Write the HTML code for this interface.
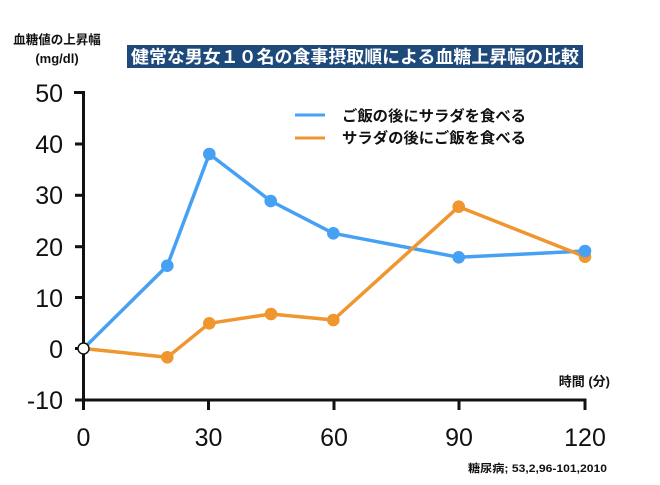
<!DOCTYPE html>
<html>
<head>
<meta charset="utf-8">
<style>
  html, body { margin: 0; padding: 0; background: #fff; }
  body { width: 660px; height: 485px; overflow: hidden; }
  svg { display: block; }
  .jp { font-family: "Liberation Sans", "Noto Sans CJK JP", sans-serif; }
</style>
</head>
<body>
<svg width="660" height="485" viewBox="0 0 660 485" xmlns="http://www.w3.org/2000/svg">
  <rect width="660" height="485" fill="#fff"/>

  <!-- Y axis title -->
  <text x="57" y="44" text-anchor="middle" class="jp" font-size="12.5" font-weight="bold" fill="#111">血糖値の上昇幅</text>
  <text x="57" y="63" text-anchor="middle" class="jp" font-size="13" font-weight="bold" fill="#111">(mg/dl)</text>

  <!-- Title bar -->
  <rect x="127" y="45" width="456" height="23" fill="#1d4a7b"/>
  <text x="355" y="63" text-anchor="middle" class="jp" font-size="17.5" font-weight="bold" fill="#fff" textLength="448" lengthAdjust="spacingAndGlyphs">健常な男女１０名の食事摂取順による血糖上昇幅の比較</text>

  <!-- Legend -->
  <line x1="295" y1="115" x2="325" y2="115" stroke="#46a0f4" stroke-width="3"/>
  <line x1="295" y1="138" x2="325" y2="138" stroke="#f0962f" stroke-width="3"/>
  <text x="342" y="121" class="jp" font-size="15" font-weight="bold" fill="#111" textLength="184" lengthAdjust="spacingAndGlyphs">ご飯の後にサラダを食べる</text>
  <text x="342" y="143" class="jp" font-size="15" font-weight="bold" fill="#111" textLength="184" lengthAdjust="spacingAndGlyphs">サラダの後にご飯を食べる</text>

  <!-- Axes -->
  <g stroke="#111" stroke-width="3" fill="none">
    <line x1="83.5" y1="91" x2="83.5" y2="401.5"/>
    <line x1="75" y1="400" x2="586.5" y2="400"/>
    <!-- y ticks -->
    <line x1="74" y1="92.5" x2="83.5" y2="92.5"/>
    <line x1="75" y1="144" x2="83.5" y2="144"/>
    <line x1="75" y1="195.3" x2="83.5" y2="195.3"/>
    <line x1="75" y1="246.7" x2="83.5" y2="246.7"/>
    <line x1="75" y1="297.5" x2="83.5" y2="297.5"/>
    <line x1="75" y1="348.5" x2="83.5" y2="348.5"/>
    <!-- x ticks -->
    <line x1="83.5" y1="400" x2="83.5" y2="410"/>
    <line x1="208.5" y1="400" x2="208.5" y2="410"/>
    <line x1="334" y1="400" x2="334" y2="410"/>
    <line x1="459" y1="400" x2="459" y2="410"/>
    <line x1="585" y1="400" x2="585" y2="410"/>
  </g>

  <!-- Y tick labels -->
  <g class="jp" font-size="25" fill="#111" text-anchor="end">
    <text x="63" y="102">50</text>
    <text x="63" y="153">40</text>
    <text x="63" y="204">30</text>
    <text x="63" y="256">20</text>
    <text x="63" y="307">10</text>
    <text x="63" y="358">0</text>
    <text x="63" y="409">-10</text>
  </g>

  <!-- X tick labels -->
  <g class="jp" font-size="25" fill="#111" text-anchor="middle">
    <text x="83.5" y="446">0</text>
    <text x="208.5" y="446">30</text>
    <text x="334" y="446">60</text>
    <text x="459" y="446">90</text>
    <text x="585" y="446">120</text>
  </g>

  <!-- X axis title -->
  <text x="610" y="386" text-anchor="end" class="jp" font-size="13" font-weight="bold" fill="#111">時間 (分)</text>

  <!-- Citation -->
  <text x="607" y="472" text-anchor="end" class="jp" font-size="11" font-weight="bold" fill="#111" textLength="139" lengthAdjust="spacingAndGlyphs">糖尿病; 53,2,96-101,2010</text>

  <!-- Series lines -->
  <polyline points="83.5,348.5 167.3,265.7 209.3,154 270.7,201 333.3,233.3 458.7,257.3 585,251" fill="none" stroke="#46a0f4" stroke-width="3.5" stroke-linejoin="round"/>
  <polyline points="83.5,348.5 167.3,357.3 209.3,323.3 271,314 333.3,320 458.7,206.7 585,256.7" fill="none" stroke="#f0962f" stroke-width="3.5" stroke-linejoin="round"/>

  <!-- Orange dots -->
  <g fill="#f0962f">
    <circle cx="167.3" cy="357.3" r="6.3"/>
    <circle cx="209.3" cy="323.3" r="6.3"/>
    <circle cx="271" cy="314" r="6.3"/>
    <circle cx="333.3" cy="320" r="6.3"/>
    <circle cx="458.7" cy="206.7" r="6.3"/>
    <circle cx="585" cy="256.7" r="6.3"/>
  </g>
  <!-- Blue dots -->
  <g fill="#46a0f4">
    <circle cx="167.3" cy="265.7" r="6.3"/>
    <circle cx="209.3" cy="154" r="6.3"/>
    <circle cx="270.7" cy="201" r="6.3"/>
    <circle cx="333.3" cy="233.3" r="6.3"/>
    <circle cx="458.7" cy="257.3" r="6.3"/>
    <circle cx="585" cy="251" r="6.3"/>
  </g>

  <!-- Origin marker -->
  <circle cx="83.5" cy="348.5" r="5.5" fill="#fff" stroke="#111" stroke-width="1.5"/>
</svg>
</body>
</html>
